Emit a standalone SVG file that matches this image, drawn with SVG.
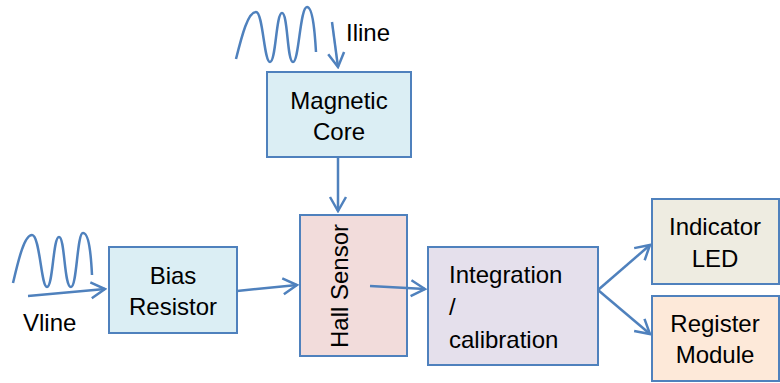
<svg xmlns="http://www.w3.org/2000/svg" width="780" height="383" viewBox="0 0 780 383">
<defs>
<marker id="ah" viewBox="0 0 20 20" refX="18" refY="10" markerWidth="20" markerHeight="20" markerUnits="userSpaceOnUse" orient="auto">
<path d="M4,2 L18,10 L4,18" fill="none" stroke="#4f81bd" stroke-width="2.5"/>
</marker>
<style>
.box{stroke:#4f81bd;stroke-width:2}
.t{font-family:"Liberation Sans",Arial,sans-serif;font-size:24px;fill:#000}
.c{text-anchor:middle}
.ln{fill:none;stroke:#4f81bd;stroke-width:2.5}
</style>
</defs>
<rect width="780" height="383" fill="#fff"/>
<g id="wave-iline"><path class="ln" d="M236,59 C242,35 248,12 256,12 C263,12 264,62 270,62 C276,62 276,13 282,13 C288,13 287,62 293,62 C299,62 300,7 307,7 C313,7 315,35 316,52"/></g>
<g id="wave-vline"><path class="ln" d="M13,283 C18,262 24,235 32,235 C40,235 41,287 47,287 C53,287 53,237 59,237 C65,237 64,287 71,287 C77,287 77,233 83,233 C89,233 91,255 92,275"/></g>
<g id="magnetic-core"><rect class="box" x="267" y="72" width="144" height="85" fill="#dbeef4"/><text class="t c" x="339" y="109">Magnetic</text><text class="t c" x="339" y="140">Core</text></g>
<g id="bias-resistor"><rect class="box" x="109" y="247" width="128" height="86" fill="#dbeef4"/><text class="t c" x="173" y="284">Bias</text><text class="t c" x="173" y="315">Resistor</text></g>
<g id="hall-sensor"><rect class="box" x="300" y="215" width="107" height="141" fill="#f2dcdb"/><text class="t c" transform="translate(348,286) rotate(-90)">Hall Sensor</text></g>
<g id="integration"><rect class="box" x="428" y="247" width="170" height="118" fill="#e5e0ec"/><text class="t" x="449" y="283">Integration</text><text class="t" x="449" y="315">/</text><text class="t" x="449" y="348">calibration</text></g>
<g id="indicator-led"><rect class="box" x="652" y="199" width="127" height="85" fill="#eeece1"/><text class="t c" x="715" y="235">Indicator</text><text class="t c" x="715" y="267">LED</text></g>
<g id="register-module"><rect class="box" x="652" y="296" width="127" height="85" fill="#fde9d9"/><text class="t c" x="715" y="332">Register</text><text class="t c" x="715" y="363">Module</text></g>
<g id="labels"><text class="t" x="346" y="41">Iline</text><text class="t" x="23" y="331">Vline</text></g>
<g id="connectors">
<line class="ln" x1="332" y1="22" x2="338" y2="67" marker-end="url(#ah)"/>
<line class="ln" x1="28" y1="296" x2="105" y2="289" marker-end="url(#ah)"/>
<line class="ln" x1="338" y1="157" x2="338" y2="211" marker-end="url(#ah)"/>
<line class="ln" x1="237" y1="291" x2="297" y2="285" marker-end="url(#ah)"/>
<line class="ln" x1="370" y1="286" x2="425" y2="289" marker-end="url(#ah)"/>
<line class="ln" x1="598" y1="290" x2="650" y2="245" marker-end="url(#ah)"/>
<line class="ln" x1="598" y1="290" x2="650" y2="334" marker-end="url(#ah)"/>
</g>
</svg>
